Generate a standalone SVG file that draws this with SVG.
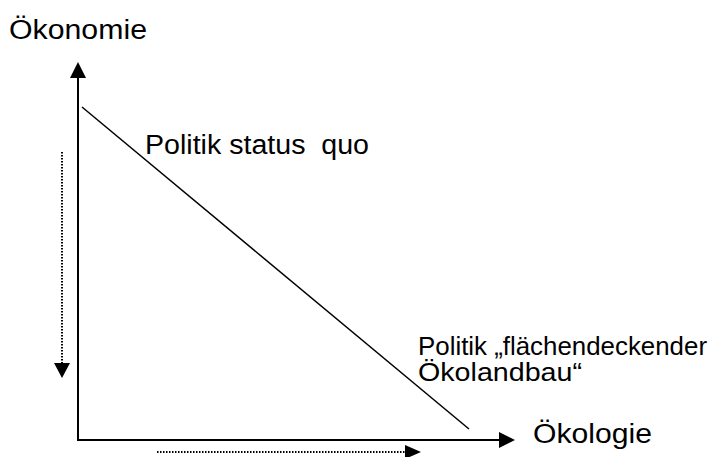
<svg xmlns="http://www.w3.org/2000/svg" width="717" height="457" viewBox="0 0 717 457">
<style>
text{font-family:"Liberation Sans",Arial,sans-serif;fill:#000}
.lbl{font-size:27px}
.lbl2{font-size:25px}
.axis{stroke:#000;stroke-width:2;fill:none}
.dot{stroke:#000;stroke-width:2;stroke-dasharray:1.5 1.5;fill:none}
.diag{stroke:#000;stroke-width:1.5;fill:none}
.head{fill:#000}
</style>
<rect width="717" height="457" fill="#fff"/>
<g id="connectors">
<line class="axis" x1="78" y1="441" x2="78" y2="76"/>
<polygon class="head" points="78,62 70,78 86,78"/>
<line class="axis" x1="77" y1="440" x2="500" y2="440"/>
<polygon class="head" points="515,440 499,432 499,448"/>
<line class="diag" x1="82" y1="107" x2="469" y2="429"/>
<line class="dot" x1="62" y1="152" x2="62" y2="364"/>
<polygon class="head" points="62,378 54,363 70,363"/>
<line class="dot" x1="157" y1="452" x2="406" y2="452"/>
<polygon class="head" points="421,452 405,445 405,459"/>
</g>
<g id="oekonomie"><text class="lbl" x="9" y="39" textLength="138" lengthAdjust="spacingAndGlyphs">Ökonomie</text></g>
<g id="oekologie"><text class="lbl" x="533" y="443" textLength="119" lengthAdjust="spacingAndGlyphs">Ökologie</text></g>
<g id="status-quo"><text class="lbl" x="145" y="154" xml:space="preserve" textLength="224" lengthAdjust="spacingAndGlyphs">Politik status  quo</text></g>
<g id="oekolandbau"><text class="lbl2" x="418" y="355" textLength="289" lengthAdjust="spacingAndGlyphs">Politik „flächendeckender</text><text class="lbl2" x="418" y="381" textLength="164" lengthAdjust="spacingAndGlyphs">Ökolandbau“</text></g>
</svg>
